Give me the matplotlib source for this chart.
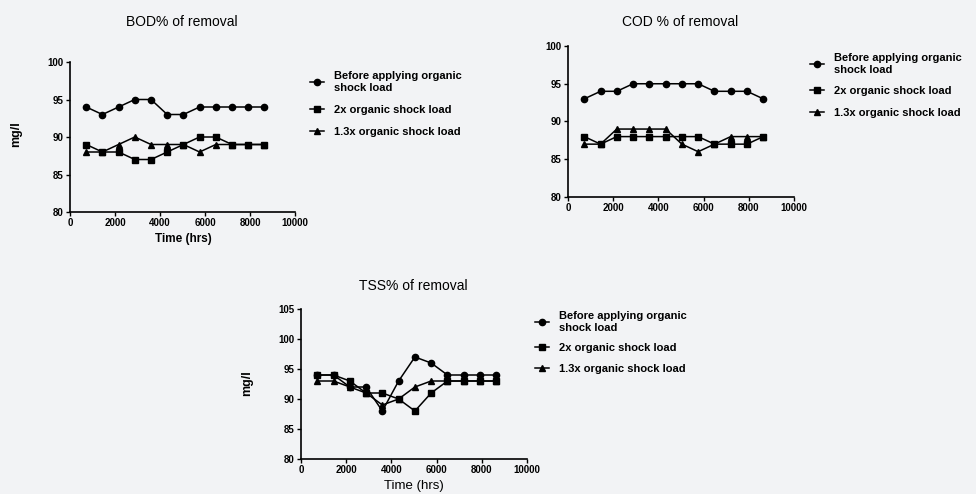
import matplotlib
matplotlib.use('Agg')
import matplotlib.pyplot as plt

plt.rcParams['font.family'] = ['Liberation Sans', 'DejaVu Sans']

# sampling times (hrs)
time_hrs = [720, 1440, 2160, 2880, 3600, 4320, 5040, 5760, 6480, 7200, 7920, 8640]

series_names = ['Before applying organic\nshock load', '2x organic shock load', '1.3x organic shock load']

bod_before = [94, 93, 94, 95, 95, 93, 93, 94, 94, 94, 94, 94]
bod_2x = [89, 88, 88, 87, 87, 88, 89, 90, 90, 89, 89, 89]
bod_13x = [88, 88, 89, 90, 89, 89, 89, 88, 89, 89, 89, 89]

cod_before = [93, 94, 94, 95, 95, 95, 95, 95, 94, 94, 94, 93]
cod_2x = [88, 87, 88, 88, 88, 88, 88, 88, 87, 87, 87, 88]
cod_13x = [87, 87, 89, 89, 89, 89, 87, 86, 87, 88, 88, 88]

tss_before = [94, 94, 92, 92, 88, 93, 97, 96, 94, 94, 94, 94]
tss_2x = [94, 94, 93, 91, 91, 90, 88, 91, 93, 93, 93, 93]
tss_13x = [93, 93, 92, 91, 89, 90, 92, 93, 93, 93, 93, 93]

W, H = 976, 494
bg = '#f2f3f5'
fig = plt.figure(figsize=(W / 100, H / 100), dpi=100, facecolor=bg)


def px_axes(left, top, right, bottom):
    return fig.add_axes([left / W, 1 - bottom / H, (right - left) / W, (bottom - top) / H])


def ftext(x, y, s, **kw):
    # text placed in pixel coordinates (from top-left)
    fig.text(x / W, 1 - y / H, s, ha='center', va='center', **kw)


markers = ['o', 's', '^']
msizes = [4.5, 5, 4.5]


def draw_panel(ax, data, ymax, yticks, leg_xy, leg_spacing):
    ax.set_facecolor(bg)
    handles = []
    for vals, m, ms, name in zip(data, markers, msizes, series_names):
        h, = ax.plot(time_hrs, vals, color='black', lw=1.1, marker=m, ms=ms, label=name)
        handles.append(h)
    ax.set_xlim(0, 10000)
    ax.set_ylim(80, ymax)
    ax.set_xticks([0, 2000, 4000, 6000, 8000, 10000])
    ax.set_yticks(yticks)
    for s in ['top', 'right']:
        ax.spines[s].set_visible(False)
    for s in ['left', 'bottom']:
        ax.spines[s].set_linewidth(1.2)
    ax.tick_params(direction='out', length=3, width=1, labelsize=7, pad=1.5)
    for lab in ax.get_xticklabels() + ax.get_yticklabels():
        lab.set_fontweight('bold')
    fig.legend(handles=handles, loc='upper left', bbox_to_anchor=(leg_xy[0] / W, 1 - leg_xy[1] / H),
               frameon=False, handlelength=1.3, handletextpad=0.9, labelspacing=leg_spacing,
               prop={'size': 8, 'weight': 'bold'}, borderpad=0, borderaxespad=0)


# BOD
ax1 = px_axes(70, 62, 295, 212)
draw_panel(ax1, [bod_before, bod_2x, bod_13x], 100, [80, 85, 90, 95, 100], (310, 71), 1.1)
ftext(182, 22, 'BOD% of removal', fontsize=10)
ftext(183, 239, 'Time (hrs)', fontsize=8.5, fontweight='bold')
ftext(16, 134, 'mg/l', fontsize=9, fontweight='bold', rotation=90)

# COD
ax2 = px_axes(568, 46, 794, 197)
draw_panel(ax2, [cod_before, cod_2x, cod_13x], 100, [80, 85, 90, 95, 100], (810, 53), 1.05)
ftext(680, 22, 'COD % of removal', fontsize=10)

# TSS
ax3 = px_axes(301, 309, 527, 459)
draw_panel(ax3, [tss_before, tss_2x, tss_13x], 105, [80, 85, 90, 95, 100, 105], (535, 311), 0.95)
ftext(413, 286, 'TSS% of removal', fontsize=10)
ftext(414, 486, 'Time (hrs)', fontsize=9.5)
ftext(247, 383, 'mg/l', fontsize=9, fontweight='bold', rotation=90)

fig.savefig('out.png', dpi=100, facecolor=bg)
